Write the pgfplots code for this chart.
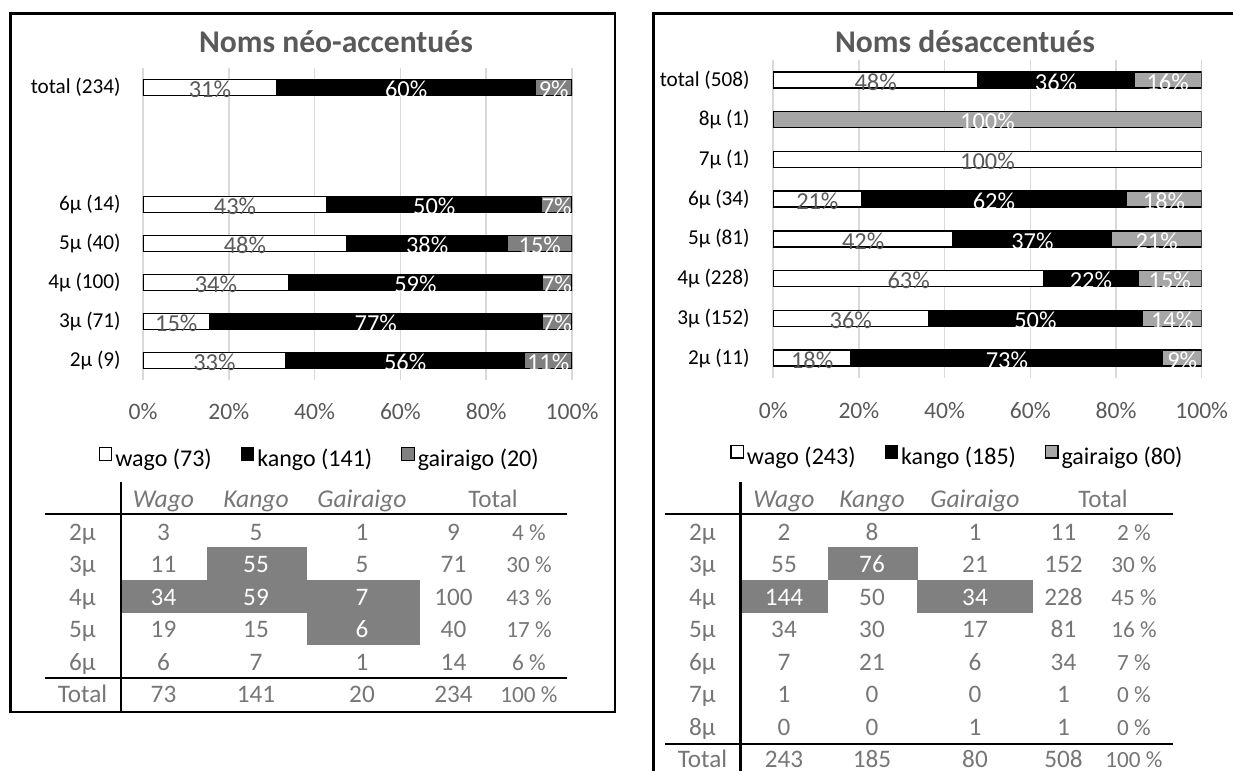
\documentclass[border=0pt]{standalone}
\usepackage{fontspec}
\setmainfont{Carlito}
\usepackage{pgfplots}
\pgfplotsset{compat=1.18}
\definecolor{tgray}{RGB}{118,118,118}
\definecolor{ttl}{RGB}{89,89,89}
\definecolor{tickc}{RGB}{89,89,89}
\definecolor{gridc}{RGB}{217,217,217}
\definecolor{gA}{RGB}{128,128,128}
\definecolor{gB}{RGB}{166,166,166}
\definecolor{cellg}{RGB}{128,128,128}
\pgfplotsset{
  barchart/.style={
    xbar stacked, scale only axis, bar width=8pt,
    xmin=0, xmax=100, ymin=-0.5, ymax=7.5,
    ytick={0,...,7},
    xtick={0,20,40,60,80,100},
    xticklabels={0\%,20\%,40\%,60\%,80\%,100\%},
    xmajorgrids, grid style={gridc, line width=0.75pt},
    axis line style={draw=none}, tick style={draw=none},
    xticklabel style={font=\fontsize{11.8}{14}\selectfont, text=tickc, anchor=center},
    yticklabel style={font=\fontsize{10.6}{13}\selectfont, text=black, anchor=east, inner sep=0pt},
    nodes near coords={\pgfplotspointmeta},
    point meta=explicit symbolic,
    every node near coord/.append style={font=\fontsize{12.2}{14}\selectfont, anchor=center, inner sep=0pt, yshift=-1pt},
    legend columns=3,
    legend style={draw=none, fill=none, font=\fontsize{12}{14}\selectfont, anchor=center, inner sep=0pt,
      nodes={inner sep=1.5pt},
      /tikz/every even column/.append style={column sep=13pt},
      /tikz/every odd column/.append style={column sep=0pt}},
    legend cell align=left,
  },
  sq/.style={legend image code/.code={\draw[##1, line width=0.6pt] (0pt,-0.6pt) rectangle (6.2pt,5.6pt);}},
}
\begin{document}
\begin{tikzpicture}
% ---------- left chart ----------
\begin{axis}[barchart, at={(71.5pt,-190pt)}, anchor=south west, width=214.5pt, height=156pt,
  xticklabel style={yshift=-16pt}, yticklabel style={xshift=-11pt},
  yticklabels={2µ (9),3µ (71),4µ (100),5µ (40),6µ (14),{},{},total (234)},
  legend style={at={(0.413,-0.253)}}]
\addplot[sq, fill=white, draw=black, line width=0.7pt, every node near coord/.append style={text=tickc}]
  coordinates {(33.3,0) [33\%] (15.5,1) [15\%] (34,2) [34\%] (47.5,3) [48\%] (42.9,4) [43\%] (31.2,7) [31\%]};
\addplot[sq, fill=black, draw=black, line width=0.7pt, every node near coord/.append style={text=white}]
  coordinates {(55.6,0) [56\%] (77.5,1) [77\%] (59,2) [59\%] (37.5,3) [38\%] (50,4) [50\%] (60.3,7) [60\%]};
\addplot[sq, fill=gA, draw=black, line width=0.7pt, every node near coord/.append style={text=white}]
  coordinates {(11.1,0) [11\%] (7.0,1) [7\%] (7,2) [7\%] (15,3) [15\%] (7.1,4) [7\%] (8.5,7) [9\%]};
\legend{wago (73), kango (141), gairaigo (20)}
\end{axis}
% ---------- right chart ----------
\begin{axis}[barchart, at={(386.6pt,-189pt)}, anchor=south west, width=214.25pt, height=159pt,
  xticklabel style={yshift=-16.3pt}, yticklabel style={xshift=-11.6pt},
  yticklabels={2µ (11),3µ (152),4µ (228),5µ (81),6µ (34),7µ (1),8µ (1),total (508)},
  legend style={at={(0.431,-0.248)}}]
\addplot[sq, fill=white, draw=black, line width=0.7pt, every node near coord/.append style={text=tickc}]
  coordinates {(18.2,0) [18\%] (36.2,1) [36\%] (63.2,2) [63\%] (42.0,3) [42\%] (20.6,4) [21\%] (100,5) [100\%] (0,6) [{}] (47.8,7) [48\%]};
\addplot[sq, fill=black, draw=black, line width=0.7pt, every node near coord/.append style={text=white}]
  coordinates {(72.7,0) [73\%] (50.0,1) [50\%] (21.9,2) [22\%] (37.0,3) [37\%] (61.8,4) [62\%] (0,5) [{}] (0,6) [{}] (36.4,7) [36\%]};
\addplot[sq, fill=gB, draw=black, line width=0.7pt, every node near coord/.append style={text=white}]
  coordinates {(9.1,0) [9\%] (13.8,1) [14\%] (14.9,2) [15\%] (21.0,3) [21\%] (17.6,4) [18\%] (0,5) [{}] (100,6) [100\%] (15.7,7) [16\%]};
\legend{wago (243), kango (185), gairaigo (80)}
\end{axis}
% ---------- frames, titles, tables (pixel units, y down) ----------
\begin{scope}[x=0.5pt, y=-0.5pt, font=\fontsize{12.6}{15}\selectfont]
\draw[line width=1.4pt] (10.7,13.3) rectangle (615,712);
\draw[line width=1.4pt] (1240,13.3) -- (653.3,13.3) -- (653.3,780);
\node[font=\bfseries\fontsize{15.8}{19}\selectfont, text=ttl] at (336,41.7) {Noms néo-accentués};
\node[font=\bfseries\fontsize{15.8}{19}\selectfont, text=ttl] at (965,41.7) {Noms désaccentués};
% highlighted cells
\fill[cellg] (207,547.3) rectangle (307,580);
\fill[cellg] (122,580) rectangle (419.5,612.7);
\fill[cellg] (307,612.7) rectangle (419.5,645);
\fill[cellg] (827.5,547.3) rectangle (918.4,580);
\fill[cellg] (741.7,580) rectangle (828,612.7);
\fill[cellg] (917,580) rectangle (1033.4,612.7);
% rules
\draw[line width=1.3pt] (45,514) -- (567,514);
\draw[line width=1.3pt] (45,678) -- (567,678);
\draw[line width=1.3pt] (121,482) -- (121,711);
\draw[line width=1.3pt] (665,514) -- (1173,514);
\draw[line width=1.3pt] (665,744) -- (1173,744);
\draw[line width=1.3pt] (740.5,482) -- (740.5,780);
% headers
\foreach \x/\t in {163.5/Wago,256/Kango,362/Gairaigo,784/Wago,872/Kango,975/Gairaigo}
  \node[text=tgray, font=\itshape\fontsize{12.8}{15}\selectfont, anchor=base] at (\x,507) {\t};
\node[text=tgray, anchor=base] at (493,507) {Total};
\node[text=tgray, anchor=base] at (1103,507) {Total};
% left table body
\foreach \lab/\a/\b/\c/\t/\p/\ca/\cb/\cc [count=\i from 0] in {
  2µ/3/5/1/9/4/tgray/tgray/tgray,
  3µ/11/55/5/71/30/tgray/white/tgray,
  4µ/34/59/7/100/43/white/white/white,
  5µ/19/15/6/40/17/tgray/tgray/white,
  6µ/6/7/1/14/6/tgray/tgray/tgray,
  Total/73/141/20/234/100/tgray/tgray/tgray}{
  \pgfmathsetmacro{\yy}{532.7+32.4*\i+7.8}
  \node[text=tgray, anchor=base] at (82.5,\yy) {\lab};
  \node[text=\ca, anchor=base] at (163.5,\yy) {\a};
  \node[text=\cb, anchor=base] at (256,\yy) {\b};
  \node[text=\cc, anchor=base] at (362,\yy) {\c};
  \node[text=tgray, anchor=base] at (453.5,\yy) {\t};
  \node[text=tgray, anchor=base, font=\fontsize{11.6}{14}\selectfont] at (529,\yy) {\p\ \%};
}
% right table body
\foreach \lab/\a/\b/\c/\t/\p/\ca/\cb/\cc [count=\i from 0] in {
  2µ/2/8/1/11/2/tgray/tgray/tgray,
  3µ/55/76/21/152/30/tgray/white/tgray,
  4µ/144/50/34/228/45/white/tgray/white,
  5µ/34/30/17/81/16/tgray/tgray/tgray,
  6µ/7/21/6/34/7/tgray/tgray/tgray,
  7µ/1/0/0/1/0/tgray/tgray/tgray,
  8µ/0/0/1/1/0/tgray/tgray/tgray,
  Total/243/185/80/508/100/tgray/tgray/tgray}{
  \pgfmathsetmacro{\yy}{532.7+32.47*\i+7.8}
  \node[text=tgray, anchor=base] at (702.5,\yy) {\lab};
  \node[text=\ca, anchor=base] at (784,\yy) {\a};
  \node[text=\cb, anchor=base] at (872,\yy) {\b};
  \node[text=\cc, anchor=base] at (975,\yy) {\c};
  \node[text=tgray, anchor=base] at (1063.5,\yy) {\t};
  \node[text=tgray, anchor=base, font=\fontsize{11.6}{14}\selectfont] at (1134,\yy) {\p\ \%};
}
\end{scope}
\pgfresetboundingbox
\path (0pt,0pt) rectangle (616.5pt,-385.5pt);
\end{tikzpicture}
\end{document}
